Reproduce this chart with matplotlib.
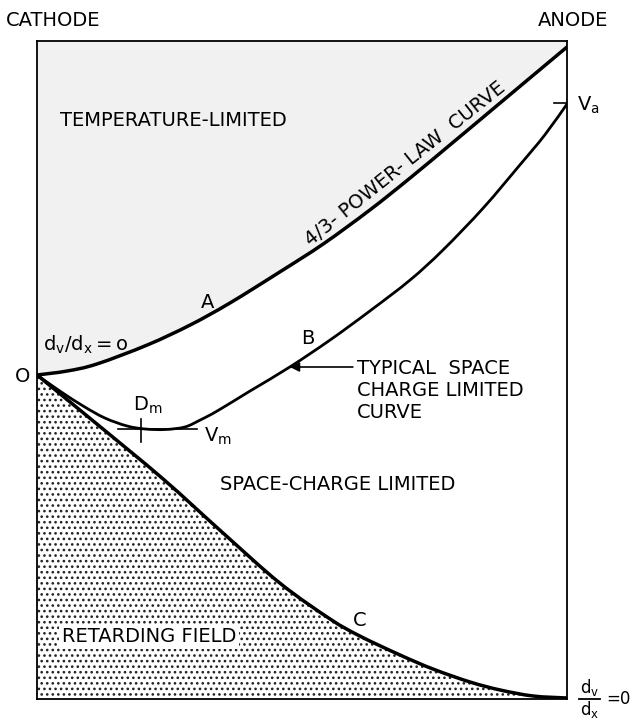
import matplotlib
matplotlib.use('Agg')
import matplotlib.pyplot as plt
from matplotlib.path import Path
from matplotlib.patches import PathPatch

# distance from cathode (0) to anode (10), potential V (0 at cathode)
a_x = [0, 0.57, 1.13, 2.08, 2.89, 3.64, 4.58, 5.40, 6.28, 7.04, 7.79, 8.40, 9.21, 10.0]
a_v = [0, 0.08, 0.22, 0.60, 1.00, 1.44, 2.06, 2.62, 3.30, 3.94, 4.60, 5.14, 5.86, 6.56]

b_x = [0, 0.43, 0.87, 1.28, 1.70, 2.04, 2.42, 2.79, 3.08, 3.40, 4.02, 4.77, 5.53,
       6.28, 7.04, 7.66, 8.42, 9.11, 9.58, 10.0]
b_v = [0, -0.32, -0.62, -0.86, -1.02, -1.08, -1.09, -1.04, -0.90, -0.72, -0.32, 0.16,
       0.70, 1.28, 1.90, 2.50, 3.34, 4.20, 4.80, 5.42]

c_x = [0, 1.13, 2.38, 3.51, 4.58, 5.53, 6.09, 6.85, 7.47, 8.17, 8.74, 9.36, 10.0]
c_v = [0, -0.98, -2.08, -3.16, -4.16, -4.88, -5.22, -5.60, -5.88, -6.14, -6.30, -6.42, -6.46]

v_min = -1.08      # Vm
d_min = 1.96       # Dm
v_a = 5.44         # Va

x_lim = (0, 10)
v_lim = (-6.48, 6.68)


def smooth_path(xs, ys):
    # cubic bezier segments through the read points (catmull-rom tangents)
    pts = list(zip(xs, ys))
    verts = [pts[0]]
    codes = [Path.MOVETO]
    n = len(pts)
    for i in range(n - 1):
        p0 = pts[i - 1] if i > 0 else pts[i]
        p1 = pts[i]
        p2 = pts[i + 1]
        p3 = pts[i + 2] if i + 2 < n else pts[i + 1]
        c1 = (p1[0] + (p2[0] - p0[0]) / 6, p1[1] + (p2[1] - p0[1]) / 6)
        c2 = (p2[0] - (p3[0] - p1[0]) / 6, p2[1] - (p3[1] - p1[1]) / 6)
        verts += [c1, c2, p2]
        codes += [Path.CURVE4] * 3
    return verts, codes


plt.rcParams['font.family'] = 'DejaVu Sans'
plt.rcParams['mathtext.fontset'] = 'dejavusans'
plt.rcParams['hatch.linewidth'] = 1.1

fig = plt.figure(figsize=(6.32, 7.23), dpi=100)
ax = fig.add_axes([37/632, 1 - 699/723, 530/632, 658/723])
ax.set_xlim(*x_lim)
ax.set_ylim(*v_lim)
ax.set_xticks([])
ax.set_yticks([])
for s in ax.spines.values():
    s.set_linewidth(1.3)

fs = 14

# temperature-limited region (light grey) above curve A
va, ca = smooth_path(a_x, a_v)
va = va + [(x_lim[1], v_lim[1]), (x_lim[0], v_lim[1]), va[0]]
ca = ca + [Path.LINETO, Path.LINETO, Path.CLOSEPOLY]
ax.add_patch(PathPatch(Path(va, ca), facecolor='#f1f1f1', lw=0, zorder=0))

# retarding field region (stippled) below curve C
vc, cc = smooth_path(c_x, c_v)
vc = vc + [(x_lim[1], v_lim[0]), (x_lim[0], v_lim[0]), vc[0]]
cc = cc + [Path.LINETO, Path.LINETO, Path.CLOSEPOLY]
ax.add_patch(PathPatch(Path(vc, cc), facecolor='white', edgecolor='#222222',
                       hatch='...', lw=0, zorder=0))

for xs, ys, w in [(a_x, a_v, 2.5), (b_x, b_v, 2.0), (c_x, c_v, 2.5)]:
    v, c = smooth_path(xs, ys)
    ax.add_patch(PathPatch(Path(v, c), facecolor='none', edgecolor='black',
                           lw=w, capstyle='round', zorder=3))

# Vm / Dm marks
ax.plot([1.53, 3.02], [v_min, v_min], color='black', lw=1.2)
ax.plot([d_min, d_min], [-0.88, -1.34], color='black', lw=1.2)
ax.plot([9.75, 10.0], [v_a, v_a], color='black', lw=1.2)

ax.text(3.21, 1.46, 'A', fontsize=fs, ha='center', va='center')
ax.text(5.11, 0.74, 'B', fontsize=fs, ha='center', va='center')
ax.text(6.09, -4.90, 'C', fontsize=fs, ha='center', va='center')
ax.text(-0.28, -0.04, 'O', fontsize=fs, ha='center', va='center', clip_on=False)
ax.text(0.11, 0.60, r'$\mathregular{d_v/d_x=o}$', fontsize=fs, ha='left', va='center')
ax.text(2.09, -0.60, r'$\mathregular{D_m}$', fontsize=fs, ha='center', va='center')
ax.text(3.42, -1.22, r'$\mathregular{V_m}$', fontsize=fs, ha='center', va='center')
ax.text(10.19, 5.40, r'$\mathregular{V_a}$', fontsize=fs, ha='left', va='center', clip_on=False)

# dv/dx = 0 at the anode
fs2 = 12
ax.text(10.42, -6.24, r'$\mathregular{d_v}$', fontsize=fs2, ha='center', va='center', clip_on=False)
ax.text(10.42, -6.70, r'$\mathregular{d_x}$', fontsize=fs2, ha='center', va='center', clip_on=False)
ax.plot([10.23, 10.62], [-6.48, -6.48], color='black', lw=1.3, clip_on=False)
ax.text(10.74, -6.48, '=0', fontsize=fs2, ha='left', va='center', clip_on=False)

ax.text(0.43, 5.10, 'TEMPERATURE-LIMITED', fontsize=fs, ha='left', va='center')
ax.text(3.45, -2.20, 'SPACE-CHARGE LIMITED', fontsize=fs, ha='left', va='center')
ax.text(0.47, -5.24, 'RETARDING FIELD', fontsize=fs, ha='left', va='center',
        bbox=dict(facecolor='white', edgecolor='none', pad=2))
ax.text(6.94, 4.22, '4/3- POWER- LAW  CURVE', fontsize=fs, ha='center', va='center',
        rotation=38.7, rotation_mode='anchor')

ax.text(6.04, 0.14, 'TYPICAL  SPACE', fontsize=fs, ha='left', va='center')
ax.text(6.04, -0.30, 'CHARGE LIMITED', fontsize=fs, ha='left', va='center')
ax.text(6.04, -0.74, 'CURVE', fontsize=fs, ha='left', va='center')
ax.annotate('', xy=(4.77, 0.16), xytext=(5.96, 0.16),
            arrowprops=dict(arrowstyle='-|>', color='black', lw=1.2,
                            mutation_scale=14, shrinkA=0, shrinkB=0))

fig.text(6/632, 1 - 20/723, 'CATHODE', fontsize=fs, ha='left', va='center')
fig.text(608/632, 1 - 20/723, 'ANODE', fontsize=fs, ha='right', va='center')

fig.savefig('out.png', dpi=100)
